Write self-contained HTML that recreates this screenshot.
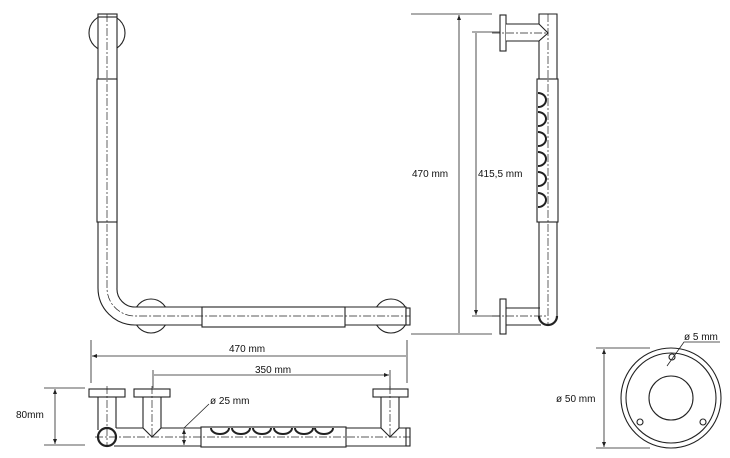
<!DOCTYPE html>
<html><head><meta charset="utf-8"><style>
html,body{margin:0;padding:0;background:#fff}
svg{display:block}
text{font-family:"Liberation Sans",sans-serif;font-size:10px;fill:#111}
</style></head><body>
<svg width="730" height="458" viewBox="0 0 730 458" xmlns="http://www.w3.org/2000/svg">
<defs>
<marker id="a" markerWidth="6" markerHeight="6" refX="5" refY="3" orient="auto-start-reverse" markerUnits="userSpaceOnUse"><path d="M0,1 L5,3 L0,5" fill="#222" stroke="none"/></marker>
</defs>
<g fill="none" stroke="#222" stroke-width="1.1">
<!-- FRONT VIEW -->
<circle cx="107" cy="33" r="18"/>
<circle cx="151" cy="316" r="17"/>
<circle cx="391" cy="316" r="17"/>
<path d="M98,14 V288 A37,37 0 0 0 135,325 H406 V307 H135 A18,18 0 0 1 117,288 V14 Z" fill="#fff"/>
<rect x="98" y="14" width="19" height="3" fill="#fff"/>
<rect x="97" y="79" width="20" height="143" fill="#fff"/>
<rect x="202" y="307" width="143" height="20" fill="#fff"/>
<rect x="406" y="308" width="4" height="17" fill="#fff"/>
<path d="M107,14 V288 A28,28 0 0 0 135,316 H410" stroke-dasharray="8,2,2,2" stroke-width="0.7"/>
<!-- SIDE VIEW -->
<path d="M539,14 V316 A9,9 0 0 0 557,316 V14 Z" fill="#fff"/>
<path d="M539,316 A9,9 0 0 0 557,316" stroke-width="2.2"/>
<rect x="537" y="79" width="21" height="143" fill="#fff"/>
<path d="M548,14 V325" stroke-dasharray="8,2,2,2" stroke-width="0.7"/>
<rect x="500" y="15" width="6" height="36" fill="#fff"/>
<path d="M506,24 H539 L548,33 L539,41 H506" fill="#fff"/>
<rect x="500" y="299" width="6" height="35" fill="#fff"/>
<path d="M506,308 H540 M506,325 H541"/>
<path d="M492,33 H548 M492,316 H548" stroke-dasharray="8,2,2,2" stroke-width="0.7"/>
<g stroke-width="2">
<path d="M538,93 A8,7 0 0 1 538,107"/><path d="M538,112 A8,7 0 0 1 538,126"/><path d="M538,132 A8,7 0 0 1 538,146"/><path d="M538,152 A8,7 0 0 1 538,166"/><path d="M538,172 A8,7 0 0 1 538,186"/><path d="M538,193 A8,7 0 0 1 538,207"/>
</g>
<!-- side dims -->
<path d="M411,14 H492 M411,334 H492 M472,32 H500 M472,316 H500" stroke-width="0.8"/>
<path d="M459,15 V333 M476,33 V315" stroke-width="0.8" marker-start="url(#a)" marker-end="url(#a)"/>
<!-- BOTTOM VIEW -->
<path d="M91,340 V383 M407,340 V383 M153,370 V388 M390,370 V388" stroke-width="0.8"/>
<path d="M92,356 H406 M154,375 H389" stroke-width="0.8" marker-start="url(#a)" marker-end="url(#a)"/>
<path d="M44,388 H85 M44,445 H85" stroke-width="0.8"/>
<path d="M55,389 V444" stroke-width="0.8" marker-start="url(#a)" marker-end="url(#a)"/>
<rect x="89" y="389" width="36" height="8" fill="#fff"/>
<rect x="134" y="389" width="36" height="8" fill="#fff"/>
<rect x="373" y="389" width="35" height="8" fill="#fff"/>
<path d="M98,397 V430 M116,397 V428"/>
<path d="M143,397 V428 L152,437 L161,428 V397"/>
<path d="M381,397 V428 L390,437 L399,428 V397"/>
<path d="M116,428 H143 M161,428 H381 M399,428 H406 M114,446 H406"/>
<rect x="406" y="428" width="4" height="18" fill="#fff"/>
<rect x="201" y="427" width="145" height="20" fill="#fff"/>
<circle cx="107" cy="437" r="9" stroke-width="2.2" fill="#fff"/>
<path d="M107,386 V446 M152,386 V437 M390,386 V437 M95,437 H410" stroke-dasharray="8,2,2,2" stroke-width="0.7"/>
<g stroke-width="2">
<path d="M211,428 A9,6 0 0 0 229,428"/><path d="M232,428 A9,6 0 0 0 250,428"/><path d="M253,428 A9,6 0 0 0 271,428"/><path d="M274,428 A9,6 0 0 0 292,428"/><path d="M295,428 A9,6 0 0 0 313,428"/><path d="M315,428 A9,6 0 0 0 333,428"/>
</g>
<path d="M184,429 V445" stroke-width="0.8" marker-start="url(#a)" marker-end="url(#a)"/>
<path d="M184,428 L209,404" stroke-width="0.8"/>
<!-- CIRCLE VIEW -->
<circle cx="671" cy="398" r="50"/>
<circle cx="671" cy="398" r="45"/>
<circle cx="671" cy="398" r="22"/>
<circle cx="640" cy="422" r="3"/>
<circle cx="703" cy="422" r="3"/>
<circle cx="672" cy="357" r="3"/>
<path d="M596,348 H650 M596,448 H650" stroke-width="0.8"/>
<path d="M604,349 V447" stroke-width="0.8" marker-start="url(#a)" marker-end="url(#a)"/>
<path d="M667,366 L684,342 H720" stroke-width="0.8"/>
</g>
<text x="412" y="177">470 mm</text>
<text x="478" y="177">415,5 mm</text>
<text x="229" y="352">470 mm</text>
<text x="255" y="373">350 mm</text>
<text x="16" y="418">80mm</text>
<text x="210" y="404">ø 25 mm</text>
<text x="556" y="402">ø 50 mm</text>
<text x="684" y="340">ø 5 mm</text>
</svg>
</body></html>
